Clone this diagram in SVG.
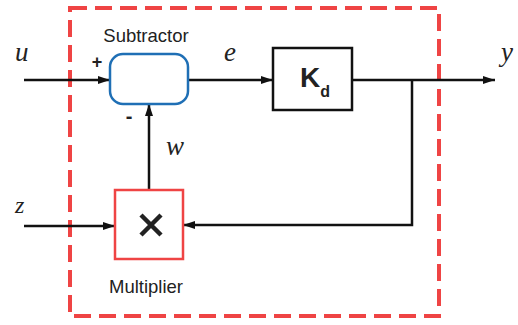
<svg xmlns="http://www.w3.org/2000/svg" width="518" height="325" viewBox="0 0 518 325">
<defs>
<marker id="ah" viewBox="0 0 12 8" refX="12" refY="4" markerWidth="12" markerHeight="8" markerUnits="userSpaceOnUse" orient="auto">
<path d="M0,0 L12,4 L0,8 Z" fill="#111"/>
</marker>
</defs>
<style>
.wire{fill:none;stroke:#111;stroke-width:2.5}
.sans{font-family:"Liberation Sans",Arial,sans-serif;fill:#222}
.math{font-family:"Liberation Serif","Times New Roman",serif;font-style:italic;fill:#222}
</style>
<rect x="70" y="8" width="369" height="308" fill="none" stroke="#ef4444" stroke-width="4" stroke-dasharray="17 8"/>
<g id="connectors">
<line class="wire" x1="24" y1="80" x2="110" y2="80" marker-end="url(#ah)"/>
<line class="wire" x1="188" y1="80" x2="273" y2="80" marker-end="url(#ah)"/>
<line class="wire" x1="352" y1="80" x2="495" y2="80" marker-end="url(#ah)"/>
<polyline class="wire" points="412,80 412,225 183,225" marker-end="url(#ah)"/>
<line class="wire" x1="24" y1="226" x2="115" y2="226" marker-end="url(#ah)"/>
<line class="wire" x1="149" y1="190" x2="149" y2="104" marker-end="url(#ah)"/>
</g>
<g id="subtractor">
<rect x="110" y="54" width="78" height="50" rx="13" fill="#fff" stroke="#1f6fb5" stroke-width="2.5"/>
<text class="sans" x="146" y="42" font-size="18.5" text-anchor="middle">Subtractor</text>
<text class="sans" x="97" y="68" font-size="18" font-weight="bold" text-anchor="middle">+</text>
<text class="sans" x="129" y="123" font-size="20" font-weight="bold" text-anchor="middle">-</text>
</g>
<g id="kd">
<rect x="273" y="48" width="79" height="62" fill="#fff" stroke="#111" stroke-width="2.5"/>
<text class="sans" x="300" y="87" font-size="28" font-weight="bold" fill="#111">K<tspan font-size="16" dy="10">d</tspan></text>
</g>
<g id="multiplier">
<rect x="115" y="190" width="68" height="69" fill="#fff" stroke="#ef4444" stroke-width="2.5"/>
<path d="M141,215 L161,235 M161,215 L141,235" stroke="#222" stroke-width="4.5" stroke-linecap="butt"/>
<text class="sans" x="146" y="293" font-size="18.5" text-anchor="middle">Multiplier</text>
</g>
<g id="labels">
<text class="math" x="15" y="61" font-size="27">u</text>
<text class="math" x="224" y="61" font-size="27">e</text>
<text class="math" x="501" y="61" font-size="27">y</text>
<text class="math" x="166" y="155" font-size="27">w</text>
<text class="math" x="15" y="213" font-size="24" fill="#444">z</text>
</g>
</svg>
